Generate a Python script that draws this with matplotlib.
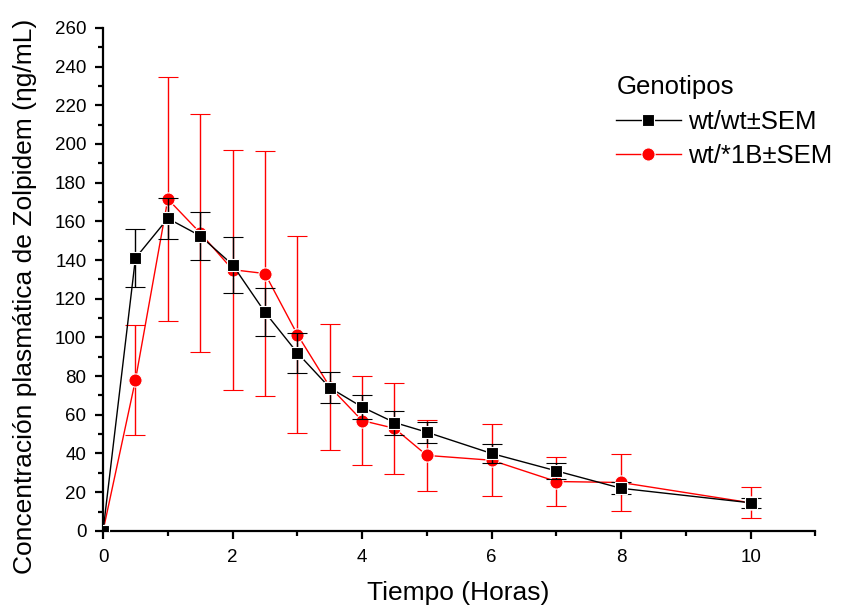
import matplotlib
matplotlib.use("Agg")
import matplotlib.pyplot as plt
from matplotlib.ticker import MultipleLocator
from matplotlib.lines import Line2D

plt.rcParams['font.family'] = ['Liberation Sans', 'DejaVu Sans']

time_h = [0, 0.5, 1, 1.5, 2, 2.5, 3, 3.5, 4, 4.5, 5, 6, 7, 8, 10]
wt_wt_mean = [0, 141, 161.5, 152.5, 137.5, 113, 92, 74, 64, 56, 51, 40, 31, 22, 14.5]
wt_wt_sem = [0, 15, 10.5, 12.5, 14.5, 12.5, 10.5, 8, 6.3, 6.2, 5.4, 5, 4, 3, 2.5]
wt_1b_mean = [0, 78, 171.5, 154, 135, 133, 101.5, 74.5, 57, 53, 39, 36.5, 25.5, 25, 14.5]
wt_1b_sem = [0, 28.5, 63, 61.5, 62, 63.5, 51, 32.5, 23, 23.5, 18.5, 18.5, 12.7, 14.7, 8]

labels = ["wt/wt±SEM", "wt/*1B±SEM"]
xlabel = "Tiempo (Horas)"
ylabel = "Concentración plasmática de Zolpidem (ηg/mL)"
legend_title = "Genotipos"

fig = plt.figure(figsize=(8.45, 6.06), dpi=100)
ax = fig.add_axes([0.122, 0.124, 0.843, 0.830])

black_style = dict(color='black', marker='s', markersize=8, linewidth=1,
                   markeredgecolor='white', markeredgewidth=0.8)
red_style = dict(color='#ff0000', marker='o', markersize=9.5, linewidth=1,
                 markeredgecolor='white', markeredgewidth=0.8)

ax.errorbar(time_h, wt_wt_mean, yerr=wt_wt_sem, ecolor='black', elinewidth=1,
            capsize=7.5, capthick=1, zorder=3, **black_style)
ax.errorbar(time_h, wt_1b_mean, yerr=wt_1b_sem, ecolor='#ff0000', elinewidth=1,
            capsize=7.5, capthick=1, zorder=2, **red_style)

ax.set_xlim(0, 11)
ax.set_ylim(0, 260)
ax.xaxis.set_major_locator(MultipleLocator(2))
ax.xaxis.set_minor_locator(MultipleLocator(1))
ax.yaxis.set_major_locator(MultipleLocator(20))
ax.yaxis.set_minor_locator(MultipleLocator(10))
for s in ['top', 'right']:
    ax.spines[s].set_visible(False)
for s in ['left', 'bottom']:
    ax.spines[s].set_linewidth(1.6)
ax.tick_params(which='major', direction='out', length=6, width=1.6, labelsize=13.5)
ax.tick_params(axis='x', which='major', pad=7)
ax.tick_params(axis='y', which='major', pad=6)
ax.tick_params(which='minor', direction='out', length=3.5, width=1.6)

ax.set_xlabel(xlabel, fontsize=19)
ax.xaxis.set_label_coords(0.498, -0.099)
ax.set_ylabel(ylabel, fontsize=19)
ax.yaxis.set_label_coords(-0.093, 0.467)

handles = [Line2D([], [], **black_style), Line2D([], [], **red_style)]
leg = ax.legend(handles, labels, title=legend_title, loc='upper left',
                bbox_to_anchor=(0.706, 0.926), frameon=False, fontsize=18.5,
                title_fontsize=18.5, handlelength=2.5, handletextpad=0.3,
                labelspacing=0.4, borderaxespad=0)
leg._legend_box.align = 'left'

fig.savefig("out.png", dpi=100)
